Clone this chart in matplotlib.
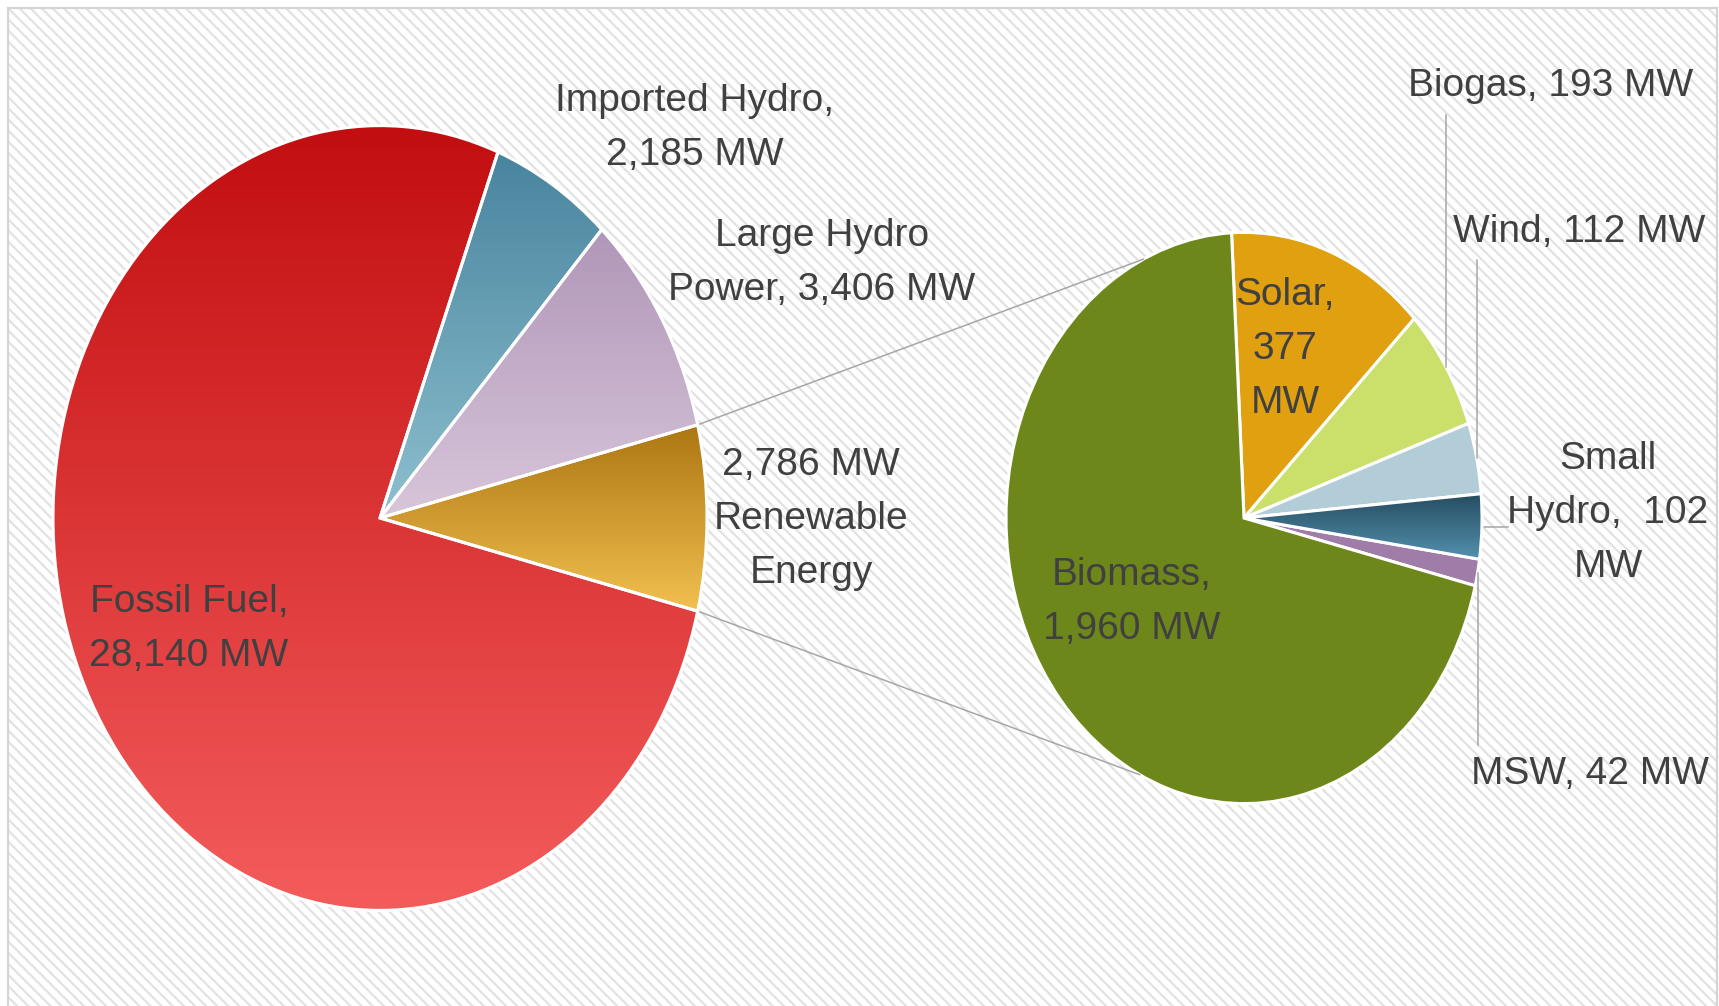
import numpy as np
import matplotlib
matplotlib.use("Agg")
import matplotlib.pyplot as plt
from matplotlib.patches import Rectangle

plt.rcParams['font.family'] = ['Liberation Sans', 'DejaVu Sans']
plt.rcParams['hatch.linewidth'] = 1.6

# main pie (MW)
main_names = ['Renewable Energy', 'Large Hydro Power', 'Imported Hydro', 'Fossil Fuel']
main_mw = [2786, 3406, 2185, 28140]
# breakdown of the renewable slice (MW)
sub_names = ['Solar', 'Biogas', 'Wind', 'Small Hydro', 'MSW', 'Biomass']
sub_mw = [377, 193, 112, 102, 42, 1960]

W, H = 1719, 1006
SY = 1.2  # the picture is stretched vertically


def P(x, y):
    # pixel (top-left origin) -> data coords
    return x, (H - y) / SY


fig = plt.figure(figsize=(W / 100, H / 100), dpi=100)
ax = fig.add_axes([0, 0, 1, 1])

# hatched background + border
ax.add_patch(Rectangle(P(8, H + 5), W - 10, (H - 3) / SY, facecolor='white',
                       edgecolor='#E2E2E2', hatch='\\\\\\', lw=0, zorder=0))
ax.add_patch(Rectangle(P(8, H + 5), W - 10, (H - 3) / SY, facecolor='none',
                       edgecolor='#D4D4D4', lw=1.6, zorder=0.1))

c1, r1 = P(380, 518), 327
c2, r2 = P(1244, 518), 238

ang_ren = 360 * main_mw[0] / sum(main_mw)
w1, _ = ax.pie(main_mw, center=c1, radius=r1, startangle=-ang_ren / 2,
               counterclock=True,
               wedgeprops=dict(edgecolor='white', linewidth=2.2))
w2, _ = ax.pie(sub_mw, center=c2, radius=r2, startangle=93, counterclock=False,
               colors=['#E0A010', '#CAE06A', '#B2CDD8', '#3F6E86', '#A07CA8', '#6E871A'],
               wedgeprops=dict(edgecolor='white', linewidth=2.2))


def grad(wedge, top, bottom):
    bb = wedge.get_path().get_extents()
    t = np.linspace(0, 1, 256)[:, None, None]
    img = (1 - t) * np.array(top)[None, None, :] / 255 + t * np.array(bottom)[None, None, :] / 255
    im = ax.imshow(img, extent=(bb.x0, bb.x1, bb.y0, bb.y1), origin='upper',
                   aspect='auto', interpolation='bilinear', zorder=1.5)
    im.set_clip_path(wedge)
    wedge.set_facecolor('none')
    wedge.set_zorder(2)


grad(w1[0], (172, 118, 18), (242, 192, 80))
grad(w1[1], (176, 150, 184), (216, 198, 218))
grad(w1[2], (72, 132, 158), (142, 192, 207))
grad(w1[3], (194, 14, 16), (244, 92, 92))
grad(w2[3], (38, 76, 96), (82, 144, 174))

# connector lines between the two pies
def edge(c, r, a):
    a = np.deg2rad(a)
    return c[0] + r * np.cos(a), c[1] + r * np.sin(a)

for a_main, a_sub in [(w1[0].theta2, 115), (w1[0].theta1, -116)]:
    p0 = edge(c1, r1, a_main)
    p1 = edge(c2, r2, a_sub)
    ax.plot([p0[0], p1[0]], [p0[1], p1[1]], color='#A6A6A6', lw=1.1, zorder=1)

txt = dict(fontsize=28, color='#404040', ha='center', va='center', linespacing=1.63)

ax.text(*P(189, 629), f"{main_names[3]},\n{main_mw[3]:,} MW", **txt)
ax.text(*P(695, 128), f"{main_names[2]},\n{main_mw[2]:,} MW", **txt)
ax.text(*P(822, 263), "Large Hydro\nPower, " + f"{main_mw[1]:,} MW", **txt)
ax.text(*P(811, 519), f"{main_mw[0]:,} MW\nRenewable\nEnergy", **txt)
ax.text(*P(1285, 349), f"{sub_names[0]},\n{sub_mw[0]}\nMW", **txt)
ax.text(*P(1132, 602), f"{sub_names[5]},\n{sub_mw[5]:,} MW", **txt)
ax.text(*P(1551, 86), f"{sub_names[1]}, {sub_mw[1]} MW", **txt)
ax.text(*P(1579, 232), f"{sub_names[2]}, {sub_mw[2]} MW", **txt)
ax.text(*P(1608, 513), f"Small\nHydro,  {sub_mw[3]}\nMW", **txt)
ax.text(*P(1590, 774), f"{sub_names[4]}, {sub_mw[4]} MW", **txt)

# leader lines for the small slices
def mid(w):
    return (w.theta1 + w.theta2) / 2

lc = dict(color='#A6A6A6', lw=1.1, zorder=1)
x, y = edge(c2, r2, mid(w2[1]))
ax.plot([x, x], [y, P(0, 115)[1]], **lc)
x, y = edge(c2, r2, mid(w2[2]))
ax.plot([x, x], [y, P(0, 260)[1]], **lc)
x, y = edge(c2, r2, mid(w2[3]))
ax.plot([x, P(1508, 0)[0]], [y, y], **lc)
x, y = edge(c2, r2, mid(w2[4]))
ax.plot([x, x], [y, P(0, 745)[1]], **lc)

ax.set_aspect('auto')
ax.set_xlim(0, W)
ax.set_ylim(0, H / SY)
ax.set_axis_off()

fig.savefig('out.png', dpi=100, facecolor='white')
